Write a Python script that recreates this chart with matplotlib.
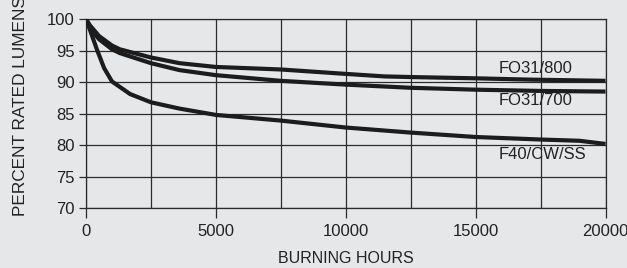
import matplotlib
matplotlib.use('Agg')
import matplotlib.pyplot as plt

# Datos (horas, % lumenes)
horas_800 = [0, 150, 500, 1000, 1300, 2500, 3600, 5000, 7500, 10000, 11500, 12500, 15000, 17000, 20000]
lum_800 = [100, 99.0, 97.3, 95.8, 95.2, 93.9, 93.0, 92.4, 92.0, 91.3, 90.9, 90.8, 90.6, 90.4, 90.2]

horas_700 = [0, 150, 500, 1000, 1300, 2500, 3600, 5000, 7500, 10000, 12500, 15000, 17500, 20000]
lum_700 = [100, 98.6, 96.8, 95.2, 94.6, 93.0, 91.9, 91.1, 90.2, 89.6, 89.1, 88.8, 88.6, 88.5]

horas_f40 = [0, 150, 435, 700, 1000, 1700, 2500, 3600, 5000, 7500, 10000, 12500, 15000, 17500, 19000, 20000]
lum_f40 = [100, 98.3, 95.0, 92.2, 90.1, 88.1, 86.8, 85.8, 84.8, 83.9, 82.8, 82.0, 81.3, 80.9, 80.7, 80.2]

etiquetas = ['FO31/800', 'FO31/700', 'F40/CW/SS']
pos_etiquetas = [92.2, 87.1, 78.5]

fondo = '#e6e7e9'
rejilla = '#2b2b2b'
fuente = 'Liberation Sans'

fig = plt.figure(figsize=(6.27, 2.68), dpi=100, facecolor=fondo)
ax = fig.add_axes([86/627, 1 - 208.3/268, (605.5 - 86)/627, (208.3 - 19)/268])
ax.set_facecolor(fondo)

ax.set_xlim(0, 20000)
ax.set_ylim(70, 100)

# Rejilla vertical secundaria (sin marca debajo del eje)
for xv in [2500, 7500, 12500, 17500]:
    ax.axvline(xv, color=rejilla, lw=0.9, zorder=1)
ax.set_xticks([0, 5000, 10000, 15000, 20000])
ax.set_yticks([70, 75, 80, 85, 90, 95, 100])
ax.grid(True, color=rejilla, lw=0.9, zorder=1)
for s in ax.spines.values():
    s.set_color(rejilla)
    s.set_linewidth(0.9)
ax.tick_params(axis='x', length=7, width=0.9, color=rejilla, pad=4, labelsize=12)
ax.tick_params(axis='y', length=5, width=0.9, color=rejilla, pad=3, labelsize=12)
for t in ax.get_xticklabels() + ax.get_yticklabels():
    t.set_fontfamily(fuente)
    t.set_color('#222222')

ax.plot(horas_800, lum_800, color='#1c1c1c', lw=3, zorder=3, solid_capstyle='butt')
ax.plot(horas_700, lum_700, color='#1c1c1c', lw=3, zorder=3, solid_capstyle='butt')
ax.plot(horas_f40, lum_f40, color='#1c1c1c', lw=3, zorder=3, solid_capstyle='butt')

for texto, yv in zip(etiquetas, pos_etiquetas):
    ax.text(15900, yv, texto, fontsize=12, family=fuente, color='#222222', va='center', ha='left', zorder=4)

ax.set_xlabel('BURNING HOURS', fontsize=11.5, family=fuente, color='#222222', labelpad=9)
fig.text(21/627, 1 - 216/268, 'PERCENT RATED LUMENS', rotation=90, ha='center', va='bottom',
         fontsize=12.4, family=fuente, color='#222222')

fig.savefig('out.png', dpi=100, facecolor=fondo)
